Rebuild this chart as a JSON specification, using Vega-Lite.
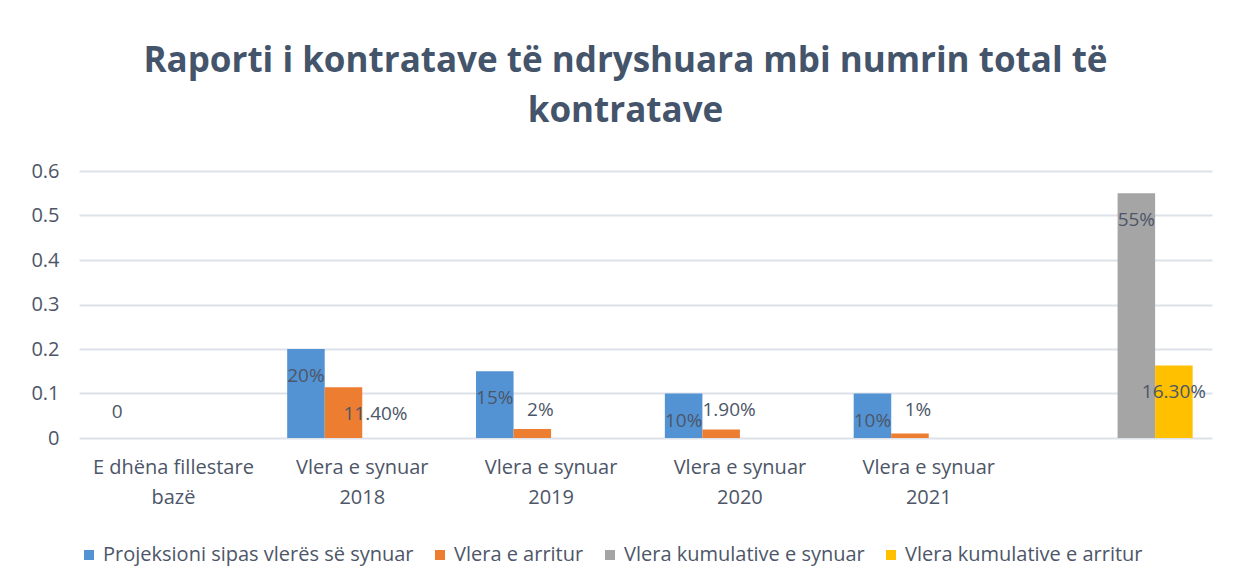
{
  "$schema": "https://vega.github.io/schema/vega-lite/v6.json",
  "width": 1133,
  "height": 267,
  "autosize": "none",
  "padding": {"left": 79, "top": 171, "right": 21, "bottom": 147},
  "background": "white",
  "title": {
    "text": ["Raporti i kontratave të ndryshuara mbi numrin total të", "kontratave"],
    "font": "Open Sans",
    "fontSize": 35,
    "fontWeight": "bold",
    "color": "#44546A",
    "lineHeight": 50,
    "anchor": "middle",
    "frame": "group",
    "dx": -20,
    "offset": 32
  },
  "data": {
    "values": [
      {"cat": "E dhëna fillestare|bazë", "series": "Projeksioni sipas vlerës së synuar", "value": 0, "label": "0"},
      {"cat": "Vlera e synuar|2018", "series": "Projeksioni sipas vlerës së synuar", "value": 0.2, "label": "20%"},
      {"cat": "Vlera e synuar|2018", "series": "Vlera e arritur", "value": 0.114, "label": "11.40%"},
      {"cat": "Vlera e synuar|2019", "series": "Projeksioni sipas vlerës së synuar", "value": 0.15, "label": "15%"},
      {"cat": "Vlera e synuar|2019", "series": "Vlera e arritur", "value": 0.02, "label": "2%"},
      {"cat": "Vlera e synuar|2020", "series": "Projeksioni sipas vlerës së synuar", "value": 0.1, "label": "10%"},
      {"cat": "Vlera e synuar|2020", "series": "Vlera e arritur", "value": 0.019, "label": "1.90%"},
      {"cat": "Vlera e synuar|2021", "series": "Projeksioni sipas vlerës së synuar", "value": 0.1, "label": "10%"},
      {"cat": "Vlera e synuar|2021", "series": "Vlera e arritur", "value": 0.01, "label": "1%"},
      {"cat": "Kumulative", "series": "Vlera kumulative e synuar", "value": 0.55, "label": "55%"},
      {"cat": "Kumulative", "series": "Vlera kumulative e arritur", "value": 0.163, "label": "16.30%"}
    ]
  },
  "encoding": {
    "x": {
      "field": "cat",
      "type": "nominal",
      "sort": null,
      "scale": {"paddingInner": 0.205, "paddingOuter": 0.1025},
      "axis": {
        "title": null,
        "labelAngle": 0,
        "labelExpr": "datum.label == 'Kumulative' ? '' : split(datum.label, '|')",
        "labelFont": "Open Sans",
        "labelFontSize": 20,
        "labelColor": "#4d5668",
        "labelLineHeight": 30,
        "labelPadding": 19,
        "domain": false,
        "ticks": false
      }
    },
    "xOffset": {
      "field": "series",
      "type": "nominal",
      "scale": {"domain": ["Projeksioni sipas vlerës së synuar", "Vlera e arritur", "Vlera kumulative e synuar", "Vlera kumulative e arritur"], "paddingInner": 0, "paddingOuter": 0}
    }
  },
  "layer": [
    {
      "mark": {"type": "bar"},
      "encoding": {
        "y": {
          "field": "value",
          "type": "quantitative",
          "scale": {"domain": [0, 0.6]},
          "axis": {
            "title": null,
            "values": [0, 0.1, 0.2, 0.3, 0.4, 0.5, 0.6],
            "format": ".1~f",
            "labelFont": "Open Sans",
            "labelFontSize": 20,
            "labelColor": "#4d5668",
            "labelPadding": 20,
            "domain": false,
            "ticks": false,
            "grid": true,
            "gridColor": "#DDE2EA",
            "gridWidth": 2
          }
        },
        "color": {
          "field": "series",
          "type": "nominal",
          "scale": {
            "domain": ["Projeksioni sipas vlerës së synuar", "Vlera e arritur", "Vlera kumulative e synuar", "Vlera kumulative e arritur"],
            "range": ["#5393D3", "#ED7D31", "#A5A5A5", "#FFC000"]
          },
          "legend": {
            "title": null,
            "orient": "bottom",
            "direction": "horizontal",
            "symbolType": "square",
            "symbolSize": 100,
            "symbolStrokeWidth": 0,
            "labelFont": "Open Sans",
            "labelFontSize": 20,
            "labelLimit": 0,
            "labelColor": "#4d5668",
            "columnPadding": 16,
            "labelOffset": 4,
            "offset": 38
          }
        }
      }
    },
    {
      "transform": [{"filter": "datum.value >= 0.1 && datum.series != 'Vlera e arritur'"}],
      "mark": {"type": "text", "dy": 27, "font": "Open Sans", "fontSize": 19, "color": "#4d5668"},
      "encoding": {
        "y": {"field": "value", "type": "quantitative"},
        "text": {"field": "label"}
      }
    },
    {
      "transform": [{"filter": "datum.value >= 0.1 && datum.series == 'Vlera e arritur'"}],
      "mark": {"type": "text", "dy": 27, "dx": 32, "font": "Open Sans", "fontSize": 19, "color": "#4d5668"},
      "encoding": {
        "y": {"field": "value", "type": "quantitative"},
        "text": {"field": "label"}
      }
    },
    {
      "transform": [{"filter": "datum.value < 0.1 && datum.series != 'Vlera e arritur'"}],
      "mark": {"type": "text", "font": "Open Sans", "fontSize": 19, "color": "#4d5668"},
      "encoding": {
        "y": {"datum": 0.058, "type": "quantitative"},
        "text": {"field": "label"}
      }
    },
    {
      "transform": [{"filter": "datum.value < 0.1 && datum.series == 'Vlera e arritur'"}],
      "mark": {"type": "text", "dx": 8, "font": "Open Sans", "fontSize": 19, "color": "#4d5668"},
      "encoding": {
        "y": {"datum": 0.063, "type": "quantitative"},
        "text": {"field": "label"}
      }
    }
  ],
  "config": {"view": {"stroke": null}}
}
